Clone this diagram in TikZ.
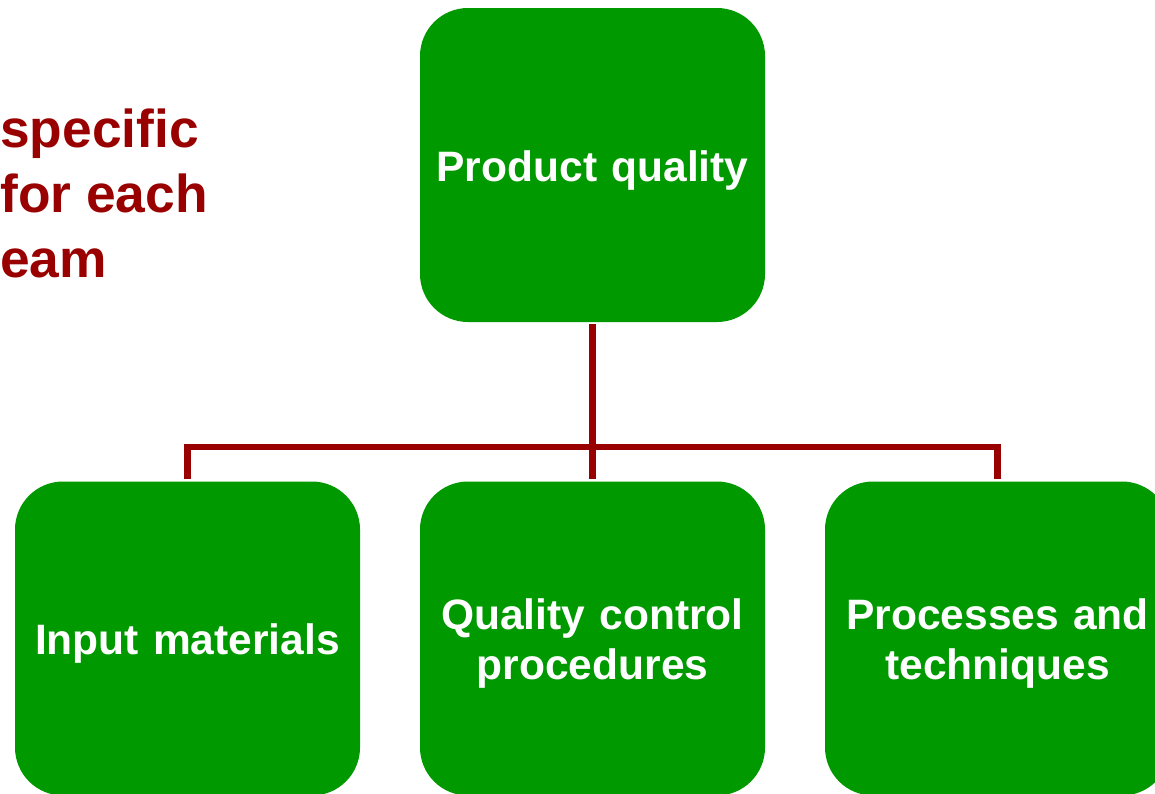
\documentclass[tikz,border=0pt]{standalone}
\usepackage{fontspec}
\setmainfont{Liberation Sans}
\usetikzlibrary{positioning}
\definecolor{boxgreen}{HTML}{009900}
\definecolor{linkred}{HTML}{990000}
\tikzstyle{box} = [rectangle, rounded corners=36pt, minimum width=258.75pt, minimum height=235.5pt, inner xsep=4pt, text width=250pt, align=center, fill=boxgreen, text=white, font=\fontsize{31.9pt}{37.5pt}\selectfont\bfseries, execute at begin node=\rule{0pt}{31pt}]
\tikzstyle{link} = [draw=linkred, line width=5pt, shorten <=1.5pt, shorten >=1.5pt]
\tikzstyle{note} = [align=left, inner sep=0pt, text=linkred, font=\fontsize{40pt}{48.4pt}\selectfont\bfseries]

\begin{document}
\begin{tikzpicture}[x=0.75pt, y=-0.75pt]
\clip (0,0) rectangle (1155,793);

\node (heading) [note, anchor=base west] at (0,277) {specific\\for each\\eam};

\node (quality) [box] at (592.5,165) {Product quality};
\node (input) [box] at (187.5,638.5) {Input materials};
\node (control) [box] at (592.5,638.5) {Quality control\\procedures};
\node (process) [box] at (997.5,638.5) {Processes and\\techniques};

\coordinate (bar) at (592.5,447);

\draw [link] (quality) -- (control);
\draw [link] (input) |- (bar) -| (process);

\end{tikzpicture}
\end{document}
